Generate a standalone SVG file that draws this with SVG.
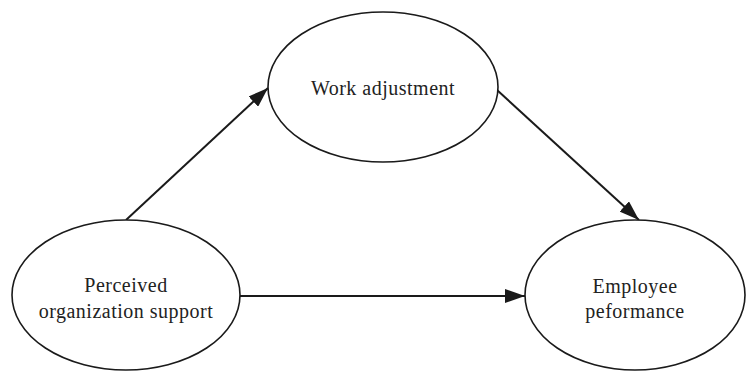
<svg xmlns="http://www.w3.org/2000/svg" width="746" height="372" viewBox="0 0 746 372">
<style>
.n{fill:#fff;stroke:#1a1a1a;stroke-width:1.6}
.t{font-family:"Liberation Serif","Times New Roman",serif;font-size:20px;fill:#222;text-anchor:middle;letter-spacing:0.5px}
.c{stroke:#1a1a1a;stroke-width:2;fill:none}
</style>
<defs>
<marker id="a" viewBox="0 0 20 14" refX="20" refY="7" markerWidth="20" markerHeight="14" markerUnits="userSpaceOnUse" orient="auto">
<path d="M0,0 L20,7 L0,14 z" fill="#1a1a1a"/>
</marker>
</defs>
<rect width="746" height="372" fill="#fff"/>
<g id="connectors">
<line class="c" x1="126" y1="220" x2="268" y2="88" marker-end="url(#a)"/>
<line class="c" x1="240" y1="296" x2="525" y2="296" marker-end="url(#a)"/>
<line class="c" x1="497" y1="90" x2="639" y2="220" marker-end="url(#a)"/>
</g>
<g id="pos">
<ellipse class="n" cx="126" cy="295" rx="114" ry="75"/>
<text class="t" x="126" y="292">Perceived</text>
<text class="t" x="126" y="318">organization support</text>
</g>
<g id="wa">
<ellipse class="n" cx="383" cy="87" rx="115" ry="75"/>
<text class="t" x="383" y="95">Work adjustment</text>
</g>
<g id="ep">
<ellipse class="n" cx="635" cy="295" rx="110" ry="75"/>
<text class="t" x="635" y="293">Employee</text>
<text class="t" x="635" y="318">peformance</text>
</g>
</svg>
